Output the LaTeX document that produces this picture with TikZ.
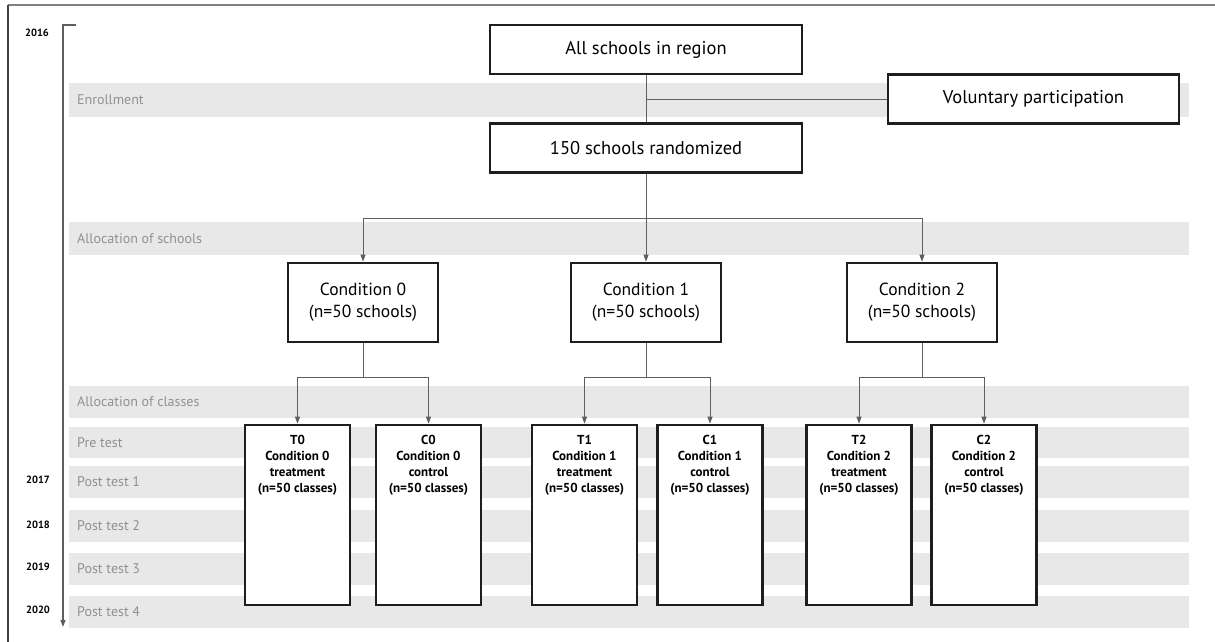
\documentclass[tikz,border=0pt]{standalone}
\usepackage{fontspec}
\setmainfont{PT Sans}
\usetikzlibrary{arrows.meta, positioning}
\definecolor{stripegray}{RGB}{232,232,232}
\definecolor{labelgray}{RGB}{145,145,145}
\definecolor{linegray}{RGB}{95,95,95}
\definecolor{boxblack}{RGB}{30,30,30}

\begin{document}
\begin{tikzpicture}[x=1pt, y=-1pt, >={Triangle[length=7pt, width=5pt]},
  stripe/.style={fill=stripegray, draw=none},
  phase/.style={anchor=west, text=labelgray, inner sep=0pt, font=\fontsize{14}{16}\selectfont},
  year/.style={font=\fontsize{10.5}{12}\selectfont\bfseries},
  bigbox/.style={draw=boxblack, line width=2.6pt, fill=white, minimum width=312pt, minimum height=49pt, font=\fontsize{18.5}{21}\selectfont},
  condbox/.style={draw=boxblack, line width=2.6pt, fill=white, minimum width=150pt, minimum height=79pt, align=center, font=\fontsize{17.5}{22}\selectfont},
  classbox/.style={draw=boxblack, line width=2.6pt, fill=white, minimum width=105pt, minimum height=180pt},
  classtxt/.style={align=center, inner sep=0pt, font=\fontsize{13}{16}\selectfont\bfseries},
  link/.style={draw=linegray, line width=1pt}]
\useasboundingbox (0,0) rectangle (1215,642);
% frame
\draw[gray, line width=2pt] (8,5) -- (1215,5);
\draw[black!75, line width=1.5pt] (8,5) -- (8,642);
% phases
\fill[stripe] (69,83) rectangle (1189,117);
\fill[stripe] (69,222) rectangle (1189,255);
\fill[stripe] (69,386) rectangle (1189,418);
\fill[stripe] (69,427) rectangle (1189,458);
\fill[stripe] (69,466) rectangle (1189,498);
\fill[stripe] (69,510) rectangle (1189,542);
\fill[stripe] (69,553) rectangle (1189,585);
\fill[stripe] (69,596) rectangle (1189,628);
\node[phase] (ph1) at (77,100) {Enrollment};
\node[phase] (ph2) at (77,239) {Allocation of schools};
\node[phase] (ph3) at (77,402) {Allocation of classes};
\node[phase] (ph4) at (77,442.5) {Pre test};
\node[phase] (ph5) at (77,482) {Post test 1};
\node[phase] (ph6) at (77,526) {Post test 2};
\node[phase] (ph7) at (77,569) {Post test 3};
\node[phase] (ph8) at (77,612) {Post test 4};
% time axis
\draw[linegray, line width=1.3pt, ->] (76,25) -- (63,25) -- (63,627);
\node[year] (y16) at (37,33) {2016};
\node[year] (y17) at (38,480) {2017};
\node[year] (y18) at (38,525) {2018};
\node[year] (y19) at (38,567) {2019};
\node[year] (y20) at (38,610) {2020};
% enrollment
\node[bigbox] (all) at (646,49.5) {All schools in region};
\node[bigbox] (rand) at (646,148) {150 schools randomized};
\node[bigbox, minimum width=291pt] (vol) at (1033.5,99) {Voluntary participation};
\draw[link] (all) -- (rand);
\coordinate (enrj) at (all |- vol);
\draw[link] (enrj) -- (vol);
% schools
\node[condbox] (c0) at (363,302.5) {Condition 0\\(n=50 schools)};
\node[condbox] (c1) at (646,302.5) {Condition 1\\(n=50 schools)};
\node[condbox] (c2) at (922,302.5) {Condition 2\\(n=50 schools)};
\coordinate (split) at (646,218);
\draw[link, ->] (rand) -- (c1);
\draw[link, ->] (split) -| (c0);
\draw[link, ->] (split) -| (c2);
% classes
\node[classbox] (trt0) at (297.5,515) {};
\node[classbox] (ctl0) at (428.5,515) {};
\node[classbox] (trt1) at (584.5,515) {};
\node[classbox] (ctl1) at (710,515) {};
\node[classbox] (trt2) at (859,515) {};
\node[classbox] (ctl2) at (984,515) {};
\node[classtxt, below=11pt of trt0.north] (trt0txt) {T0\\Condition 0\\treatment\\(n=50 classes)};
\node[classtxt, below=11pt of ctl0.north] (ctl0txt) {C0\\Condition 0\\control\\(n=50 classes)};
\node[classtxt, below=11pt of trt1.north] (trt1txt) {T1\\Condition 1\\treatment\\(n=50 classes)};
\node[classtxt, below=11pt of ctl1.north] (ctl1txt) {C1\\Condition 1\\control\\(n=50 classes)};
\node[classtxt, below=11pt of trt2.north] (trt2txt) {T2\\Condition 2\\treatment\\(n=50 classes)};
\node[classtxt, below=11pt of ctl2.north] (ctl2txt) {C2\\Condition 2\\control\\(n=50 classes)};
\coordinate (sp0) at (363,377);
\coordinate (sp1) at (646,377);
\coordinate (sp2) at (922,377);
\draw[link] (c0) -- (sp0);
\draw[link] (c1) -- (sp1);
\draw[link] (c2) -- (sp2);
\draw[link, ->] (sp0) -| (trt0);
\draw[link, ->] (sp0) -| (ctl0);
\draw[link, ->] (sp1) -| (trt1);
\draw[link, ->] (sp1) -| (ctl1);
\draw[link, ->] (sp2) -| (trt2);
\draw[link, ->] (sp2) -| (ctl2);
\end{tikzpicture}
\end{document}
